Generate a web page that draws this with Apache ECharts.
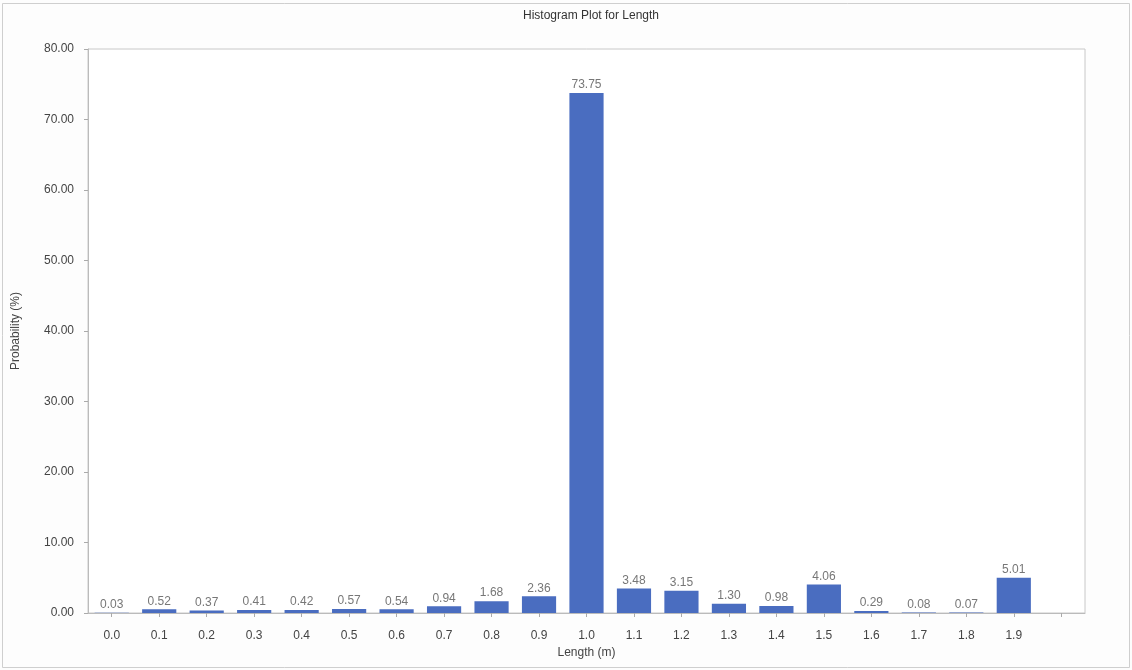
<!DOCTYPE html>
<html>
<head>
<meta charset="utf-8">
<script src="https://cdn.jsdelivr.net/npm/echarts@6/dist/echarts.min.js"></script>
<style>
html,body{margin:0;padding:0;background:#fff;}
#c{width:1132px;height:670px;}
</style>
</head>
<body>
<div id="c"></div>
<script>
const categories = ['0.0','0.1','0.2','0.3','0.4','0.5','0.6','0.7','0.8','0.9','1.0','1.1','1.2','1.3','1.4','1.5','1.6','1.7','1.8','1.9',''];
const probabilities = [0.03,0.52,0.37,0.41,0.42,0.57,0.54,0.94,1.68,2.36,73.75,3.48,3.15,1.30,0.98,4.06,0.29,0.08,0.07,5.01];
const yTicks = {min:0, max:80, interval:10};

const chart = echarts.init(document.getElementById('c'));
chart.setOption({
  backgroundColor:'#fdfdfd',
  animation:false,
  title:{text:'Histogram Plot for Length', left:586, textAlign:'center', top:5,
    textStyle:{fontSize:12, fontWeight:'normal', color:'#333', fontFamily:'Liberation Sans'}},
  graphic:[{type:'rect', shape:{x:2.5,y:3.5,width:1127,height:664}, style:{fill:'none', stroke:'#cfcfcf', lineWidth:1}, silent:true}],
  grid:{left:88, right:47, top:49, bottom:57, show:true, borderColor:'#c8c8c8', borderWidth:1, backgroundColor:'#fff'},
  xAxis:{type:'category', data:categories, boundaryGap:true,
    name:'Length (m)', nameLocation:'middle', nameGap:34,
    nameTextStyle:{fontSize:12, color:'#444', fontFamily:'Liberation Sans'},
    axisLine:{lineStyle:{color:'#bbb'}},
    axisTick:{show:true, alignWithLabel:true, length:4, lineStyle:{color:'#aaa'}},
    axisLabel:{fontSize:12, color:'#444', margin:17, interval:0, fontFamily:'Liberation Sans'}},
  yAxis:{type:'value', min:yTicks.min, max:yTicks.max, interval:yTicks.interval,
    name:'Probability (%)', nameLocation:'middle', nameGap:66,
    nameTextStyle:{fontSize:12, color:'#444', fontFamily:'Liberation Sans'},
    axisLine:{show:true, lineStyle:{color:'#bbb'}},
    axisTick:{show:true, length:4, lineStyle:{color:'#aaa'}},
    splitLine:{show:false},
    axisLabel:{fontSize:12, color:'#444', margin:14, formatter:v=>v.toFixed(2), fontFamily:'Liberation Sans'}},
  series:[{type:'bar', data:probabilities, barWidth:'72%',
    itemStyle:{color:'#4a6dc0'},
    label:{show:true, position:'top', distance:2, fontSize:12, color:'#777', fontFamily:'Liberation Sans',
      formatter:p=>p.value.toFixed(2)}}]
});
</script>
</body>
</html>
